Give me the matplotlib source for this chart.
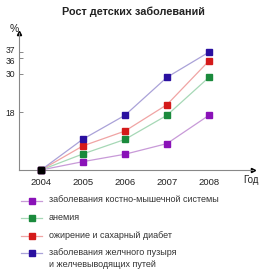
import matplotlib.pyplot as plt
from matplotlib.lines import Line2D
from matplotlib.transforms import ScaledTranslation

plt.rcParams['font.family'] = ['Liberation Sans', 'DejaVu Sans']

years = [2004, 2005, 2006, 2007, 2008]
musculo = [0, 2.6, 4.9, 8.2, 17.0]
anemia = [0, 5.0, 9.5, 17.0, 28.8]
obesity = [0, 7.5, 12.1, 20.3, 33.9]
gall = [0, 9.6, 17.0, 28.8, 36.6]

ytick_pos = [17.9, 29.9, 34.7, 36.7]
ytick_lab = ['18', '30', '36', '37']

labels = ['заболевания костно-мышечной системы',
          'анемия',
          'ожирение и сахарный диабет',
          'заболевания желчного пузыря\nи желчевыводящих путей']
series = [musculo, anemia, obesity, gall]
mcolors = ['#8a12b8', '#1a8a3c', '#d41a1a', '#2a10a0']
lcolors = ['#c89ad8', '#a6d8b6', '#f0a4a4', '#aaa2d8']

W, H = 265, 276
fig = plt.figure(figsize=(W / 100, H / 100), dpi=100)
ax = fig.add_axes([19 / W, (H - 170) / H, (253 - 19) / W, (170 - 33) / H])

for vals, mc, lc in zip(series, mcolors, lcolors):
    ax.plot(years, vals, color=lc, lw=0.9, marker='s', ms=4.2,
            mfc=mc, mec=mc, clip_on=False, zorder=3)
ax.plot(years[0], 0, 's', color='black', ms=4.2, clip_on=False, zorder=4)

ax.set_xlim(2004 - 22 / 42, 2008 + 44 / 42)
ax.set_ylim(0, 137 / 3.22)

for s in ['top', 'right']:
    ax.spines[s].set_visible(False)
for s in ['left', 'bottom']:
    ax.spines[s].set_color('#888888')
    ax.spines[s].set_linewidth(0.8)

ax.set_xticks(years)
ax.set_xticklabels([str(y) for y in years])
ax.tick_params(axis='x', length=0, pad=6, labelsize=6.8, labelcolor='#222222')
ax.set_yticks(ytick_pos)
ax.set_yticklabels(ytick_lab)
ax.tick_params(axis='y', direction='in', length=3, width=0.7, color='#888888',
               pad=3, labelsize=6.2, labelcolor='#222222')

# spread the close 36 / 37 labels apart
nudges = {'37': 2.0, '36': -2.0}
for t in ax.get_yticklabels():
    dy = nudges.get(t.get_text(), 0)
    if dy:
        t.set_transform(t.get_transform() + ScaledTranslation(0, dy / 100, fig.dpi_scale_trans))

ax.plot(1, 0, '>', color='black', ms=3, transform=ax.transAxes, clip_on=False)
ax.plot(0, 1, '^', color='black', ms=3, transform=ax.transAxes, clip_on=False)

fig.text(133 / W, 1 - 12 / H, 'Рост детских заболеваний', ha='center', va='center',
         fontsize=7.8, fontweight='bold', color='#222222')
fig.text(14 / W, 1 - 29 / H, '%', ha='center', va='center', fontsize=7.5, color='#222222')
fig.text(251 / W, 1 - 180 / H, 'Год', ha='center', va='center', fontsize=7, color='#222222')

# legend
lax = fig.add_axes([0, 0, 1, 1], facecolor='none')
lax.set_xlim(0, W)
lax.set_ylim(H, 0)
lax.axis('off')
rows = [201, 218, 236, 253]
for y, lab, mc, lc in zip(rows, labels, mcolors, lcolors):
    lax.add_line(Line2D([21, 42], [y, y], color=lc, lw=0.9))
    lax.add_line(Line2D([31.5], [y], marker='s', ms=4, mfc=mc, mec=mc))
    if '\n' in lab:
        lax.text(49, y - 5, lab, ha='left', va='top', fontsize=6.5,
                 color='#333333', linespacing=1.45)
    else:
        lax.text(49, y - 1, lab, ha='left', va='center', fontsize=6.5, color='#333333')

fig.savefig('out.png', dpi=100)
